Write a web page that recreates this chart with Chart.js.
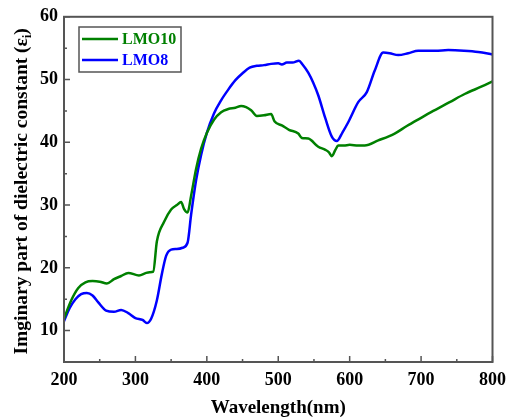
<!DOCTYPE html>
<html>
<head>
<meta charset="utf-8">
<script src="https://cdn.jsdelivr.net/npm/chart.js@4.4.1/dist/chart.umd.min.js"></script>
<style>
  html, body { margin: 0; padding: 0; background: #fff; }
  #wrap { width: 514px; height: 419px; }
</style>
</head>
<body>
<div id="wrap"><canvas id="epsChart" width="514" height="419"></canvas></div>
<script>
// wavelength (nm) and imaginary part values
const lmo10X = [200, 210, 220, 230, 240, 250, 260, 270, 280, 290, 305, 315, 320, 325, 330, 340, 350, 358, 364, 368, 373, 378, 385, 392, 400, 410, 420, 430, 440, 448, 455, 462, 470, 480, 490, 495, 505, 515, 528, 533, 542, 556, 566, 571, 575, 580, 584, 592, 600, 612, 621, 640, 663, 680, 700, 714, 740, 761, 785, 800];
const lmo10Y = [11.9, 14.8, 16.8, 17.7, 17.9, 17.8, 17.5, 18.2, 18.7, 19.2, 18.8, 19.2, 19.3, 19.4, 24.2, 27.3, 29.3, 30.0, 30.5, 29.4, 28.8, 31.5, 35.8, 39.0, 41.5, 43.6, 44.8, 45.3, 45.5, 45.8, 45.6, 45.1, 44.2, 44.3, 44.5, 43.3, 42.7, 42.0, 41.4, 40.7, 40.6, 39.3, 38.8, 38.4, 37.8, 38.8, 39.5, 39.5, 39.6, 39.5, 39.5, 40.3, 41.4, 42.6, 43.9, 44.8, 46.4, 47.7, 48.9, 49.7];

const lmo8X = [200, 208, 216, 224, 232, 240, 248, 259, 270, 280, 290, 300, 310, 316, 322, 330, 337, 343, 350, 358, 366, 373, 378, 385, 392, 400, 410, 420, 430, 440, 450, 460, 470, 480, 490, 500, 505, 512, 520, 529, 534, 542, 549, 556, 566, 575, 582, 590, 598, 612, 624, 635, 647, 656, 668, 682, 696, 720, 738, 760, 780, 800];
const lmo8Y = [11.5, 13.6, 15.0, 15.8, 16.0, 15.6, 14.5, 13.2, 13.0, 13.3, 12.8, 12.0, 11.7, 11.2, 11.9, 14.8, 19.0, 21.9, 22.9, 23.0, 23.2, 24.0, 28.5, 34.0, 38.0, 41.5, 44.6, 46.7, 48.4, 49.9, 51.0, 51.9, 52.2, 52.3, 52.5, 52.6, 52.4, 52.7, 52.7, 53.0, 52.4, 51.1, 49.5, 47.5, 43.8, 40.9, 40.2, 41.6, 43.2, 46.4, 48.0, 51.4, 54.3, 54.2, 53.9, 54.2, 54.6, 54.6, 54.7, 54.6, 54.4, 54.0];

const xTicks = [200, 300, 400, 500, 600, 700, 800];
const xMinor = [250, 350, 450, 550, 650, 750];
const yTicks = [10, 20, 30, 40, 50, 60];
const yMinor = [15, 25, 35, 45, 55];

const serif = '"Liberation Serif", "Times New Roman", serif';
const axisColor = '#555555';

function pts(xs, ys) {
    return xs.map((x, i) => ({ x: x, y: ys[i] }));
}

// box around the plot, inward tick marks, y title with subscript
const frame = {
    id: 'frame',
    afterDraw(chart) {
        const ctx = chart.ctx;
        const a = chart.chartArea;
        const xs = chart.scales.x, ys = chart.scales.y;
        ctx.save();
        ctx.strokeStyle = axisColor;
        ctx.lineWidth = 2;
        ctx.strokeRect(a.left, a.top, a.right - a.left, a.bottom - a.top);
        ctx.lineWidth = 1.5;
        ctx.beginPath();
        xTicks.forEach(v => { const p = xs.getPixelForValue(v); ctx.moveTo(p, a.bottom); ctx.lineTo(p, a.bottom - 6); });
        xMinor.forEach(v => { const p = xs.getPixelForValue(v); ctx.moveTo(p, a.bottom); ctx.lineTo(p, a.bottom - 3); });
        yTicks.forEach(v => { const p = ys.getPixelForValue(v); ctx.moveTo(a.left, p); ctx.lineTo(a.left + 6, p); });
        yMinor.forEach(v => { const p = ys.getPixelForValue(v); ctx.moveTo(a.left, p); ctx.lineTo(a.left + 3, p); });
        ctx.stroke();

        ctx.fillStyle = '#000';
        ctx.translate(22, (a.top + a.bottom) / 2 + 2);
        ctx.rotate(-Math.PI / 2);
        const main = 'Imginary part of dielectric constant (ε';
        const sub = 'i';
        ctx.font = 'bold 19.5px ' + serif;
        const w1 = ctx.measureText(main).width;
        const w3 = ctx.measureText(')').width;
        ctx.font = 'bold 12px ' + serif;
        const w2 = ctx.measureText(sub).width;
        const x0 = -(w1 + w2 + w3) / 2;
        ctx.textBaseline = 'middle';
        ctx.textAlign = 'left';
        ctx.font = 'bold 19.5px ' + serif;
        ctx.fillText(main, x0, 0);
        ctx.font = 'bold 12px ' + serif;
        ctx.fillText(sub, x0 + w1, 6);
        ctx.font = 'bold 19.5px ' + serif;
        ctx.fillText(')', x0 + w1 + w2, 0);
        ctx.restore();
    }
};

const legendBox = {
    id: 'legendBox',
    afterDraw(chart) {
        const c = chart.ctx;
        c.save();
        c.strokeStyle = axisColor;
        c.lineWidth = 1.5;
        c.strokeRect(79, 27, 102, 45);
        chart.data.datasets.forEach((d, i) => {
            const y = 39 + i * 21;
            c.strokeStyle = d.borderColor;
            c.lineWidth = 2.5;
            c.beginPath();
            c.moveTo(82, y);
            c.lineTo(118, y);
            c.stroke();
            c.fillStyle = d.borderColor;
            c.font = 'bold 16px ' + serif;
            c.textBaseline = 'middle';
            c.fillText(d.label, 122, y + 1);
        });
        c.restore();
    }
};

const ctx = document.getElementById('epsChart').getContext('2d');
const epsChart = new Chart(ctx, {
    type: 'line',
    data: {
        datasets: [
            {
                label: 'LMO10',
                data: pts(lmo10X, lmo10Y),
                borderColor: '#008000',
                borderWidth: 2.5,
                pointRadius: 0,
                cubicInterpolationMode: 'monotone'
            },
            {
                label: 'LMO8',
                data: pts(lmo8X, lmo8Y),
                borderColor: '#0000ff',
                borderWidth: 2.5,
                pointRadius: 0,
                cubicInterpolationMode: 'monotone'
            }
        ]
    },
    options: {
        responsive: false,
        animation: false,
        layout: { padding: { top: 14, right: 19, left: 0, bottom: 0 } },
        plugins: {
            legend: { display: false },
            tooltip: { enabled: false }
        },
        scales: {
            x: {
                type: 'linear',
                min: 200,
                max: 800,
                afterBuildTicks: s => { s.ticks = xTicks.map(v => ({ value: v })); },
                afterFit: s => { s.height = 57; },
                grid: { display: false, drawTicks: false },
                border: { display: false },
                ticks: { color: '#000', padding: 8, font: { family: serif, size: 18, weight: 'bold' } },
                title: { display: true, text: 'Wavelength(nm)', color: '#000', padding: { top: 9, bottom: 0 }, font: { family: serif, size: 19, weight: 'bold' } }
            },
            y: {
                min: 5,
                max: 60,
                afterBuildTicks: s => { s.ticks = yTicks.map(v => ({ value: v })); },
                afterFit: s => { s.width = 64; },
                grid: { display: false, drawTicks: false },
                border: { display: false },
                ticks: { color: '#000', padding: 6, font: { family: serif, size: 18, weight: 'bold' } }
            }
        }
    },
    plugins: [frame, legendBox]
});
</script>
</body>
</html>
